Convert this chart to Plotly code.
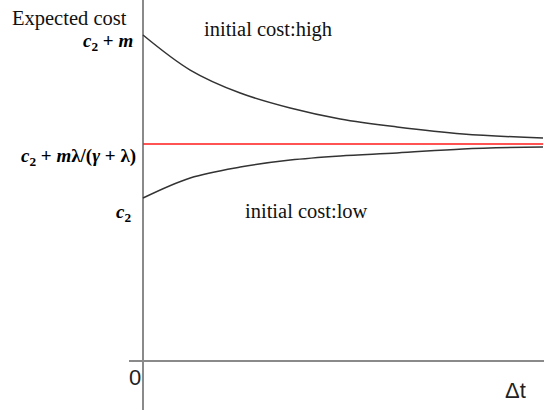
import plotly.graph_objects as go

# time since last maintenance (arbitrary units) and the two cost paths
dt = [0, 1.18, 2.43, 3.68, 4.93, 6.35, 8.0, 10.0]
cost_high = [2.0, 1.785, 1.644, 1.552, 1.485, 1.436, 1.393, 1.368]
cost_low = [1.0, 1.123, 1.190, 1.233, 1.258, 1.276, 1.301, 1.313]
steady = 1.331

tick_vals = [2.0, steady, 1.0]
tick_text = ['<b><i>c</i><sub>2</sub> + <i>m</i></b>',
             '<b><i>c</i><sub>2</sub> + <i>m</i>λ/(<i>γ</i> + λ)</b>',
             '<b><i>c</i><sub>2</sub></b>']

serif = 'Liberation Serif, Times New Roman, serif'
sans = 'Liberation Sans Narrow, Liberation Sans, Arial, sans-serif'

fig = go.Figure()
fig.add_trace(go.Scatter(x=dt, y=cost_high, mode='lines', line_shape='spline',
                         line=dict(color='#333333', width=1.5)))
fig.add_trace(go.Scatter(x=dt, y=cost_low, mode='lines', line_shape='spline',
                         line=dict(color='#333333', width=1.5)))
fig.add_trace(go.Scatter(x=[dt[0], dt[-1]], y=[steady, steady], mode='lines',
                         line=dict(color='#ff1a1a', width=1.5)))

# y labels sit a bit below their levels, right-aligned against the axis
shifts = [-7, -13, -15]
right_px = [-8, -5, -10]
for v, t, dy, dx in zip(tick_vals, tick_text, shifts, right_px):
    fig.add_annotation(x=0, y=v, text=t, showarrow=False, xanchor='right',
                       xshift=dx, yshift=dy,
                       font=dict(family=serif, size=19, color='black'))

fig.add_annotation(x=0, y=1.0, xref='paper', yref='paper', text='Expected cost',
                   showarrow=False, xanchor='right', yanchor='middle',
                   xshift=0, yshift=-18,
                   font=dict(family=serif, size=20.5, color='#111111'))
fig.add_annotation(x=1.475, y=2.0, text='initial cost:high', showarrow=False,
                   xanchor='left', yshift=6,
                   font=dict(family=serif, size=20.5, color='#111111'))
fig.add_annotation(x=2.5, y=1.0, text='initial cost:low', showarrow=False,
                   xanchor='left', yshift=-13,
                   font=dict(family=serif, size=20.5, color='#111111'))
fig.add_annotation(x=0, y=0, text='0', showarrow=False, xanchor='right',
                   yanchor='middle', xshift=0, yshift=-16,
                   font=dict(family=sans, size=22, color='#222222'))
fig.add_annotation(x=1.0, y=0, xref='paper', text='Δt', showarrow=False,
                   xanchor='right', yanchor='middle', xshift=-16, yshift=-29,
                   font=dict(family=sans, size=22, color='#222222'))

fig.update_xaxes(range=[-0.35, 10.025], showgrid=False, showticklabels=False,
                 zeroline=True, zerolinecolor='#8a8a8a', zerolinewidth=2)
fig.update_yaxes(range=[-0.3006, 2.2147], showgrid=False, showticklabels=False,
                 zeroline=True, zerolinecolor='#8a8a8a', zerolinewidth=2)
fig.update_layout(width=544, height=412, showlegend=False,
                  margin=dict(l=129, r=0, t=0, b=2),
                  paper_bgcolor='white', plot_bgcolor='white')

# page has a default body margin; drop it so the figure fills the window
fig.write_html("out.html", config={'displayModeBar': False},
               post_script="document.body.style.margin='0';")
